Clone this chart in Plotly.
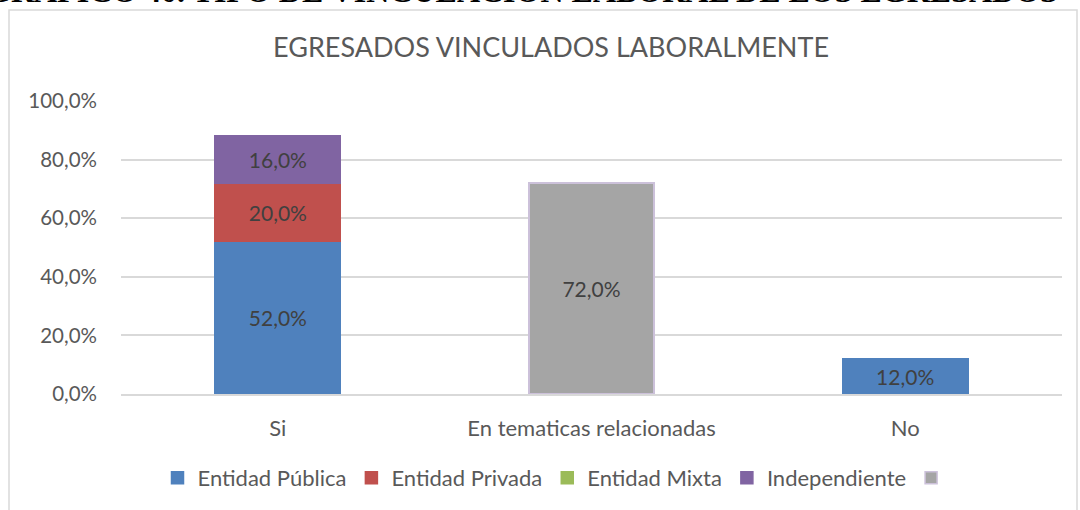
import plotly.graph_objects as go

# data
categorias = ["Si", "En tematicas relacionadas", "No"]
entidad_publica = [52.0, None, 12.0]
entidad_privada = [20.0, None, None]
entidad_mixta = [None, None, None]
independiente = [16.0, None, None]
sin_nombre = [None, 72.0, None]

series = [
    ("Entidad Pública", entidad_publica, "#4f81bd", "#4f81bd"),
    ("Entidad Privada", entidad_privada, "#c0504d", "#c0504d"),
    ("Entidad Mixta", entidad_mixta, "#9bbb59", "#9bbb59"),
    ("Independiente", independiente, "#8064a2", "#8064a2"),
    (" ", sin_nombre, "#a5a5a5", "#ccc1da"),
]

FONT = "Lato, sans-serif"
W, H = 1080, 510
L, R, T, B = 121, 18, 101, 116
pw, ph = W - L - R, H - T - B


def px_x(px):
    return (px - L) / pw


def px_y(py):
    return (H - B - py) / ph


fig = go.Figure()
for name, vals, color, line in series:
    fig.add_trace(go.Bar(
        x=categorias, y=vals, name=name,
        marker=dict(color=color, line=dict(color=line, width=1.5)),
        texttemplate="%{y:.1f}%", textposition="inside", insidetextanchor="middle",
        textfont=dict(color="#404040", size=21, family=FONT),
        hoverinfo="skip",
    ))

# outer chart frame (as in the Word document)
fig.add_shape(type="rect", xref="paper", yref="paper",
              x0=px_x(9), x1=px_x(1077), y0=px_y(530), y1=px_y(10),
              line=dict(color="#d9d9d9", width=1.5), fillcolor="rgba(0,0,0,0)", layer="below")

# document heading, cut off by the top edge in the reference
fig.add_annotation(text="<b>GRÁFICO 40. TIPO DE VINCULACIÓN LABORAL DE LOS EGRESADOS</b>",
                   xref="paper", yref="paper", x=px_x(522), y=px_y(11),
                   xanchor="center", yanchor="bottom", showarrow=False,
                   font=dict(family="Liberation Serif, serif", size=32, color="#000000"))

fig.update_layout(
    width=W, height=H,
    barmode="stack", bargap=0.6,
    separators=",.",
    paper_bgcolor="white", plot_bgcolor="white",
    margin=dict(l=L, r=R, t=T, b=B, autoexpand=False),
    font=dict(family=FONT, color="#595959", size=21),
    title=dict(text="EGRESADOS VINCULADOS LABORALMENTE", x=px_x(551), xref="paper",
               xanchor="center", y=1 - 48 / H, yref="container", yanchor="middle",
               font=dict(size=27, color="#595959", family=FONT)),
    legend=dict(orientation="h", x=px_x(560), xref="paper", xanchor="center",
                y=1 - 478 / H, yref="container", yanchor="middle",
                font=dict(size=22, color="#595959"), traceorder="normal",
                itemclick=False),
    showlegend=True,
)

fig.update_yaxes(range=[0, 100], dtick=20, tickformat=".1f", ticksuffix="%",
                 tickfont=dict(size=20.5),
                 showgrid=True, gridcolor="#d9d9d9", gridwidth=1.5,
                 zeroline=False, showline=False, ticks="", ticklabelstandoff=23)
fig.update_xaxes(showline=True, linecolor="#d9d9d9", linewidth=1.5, ticks="",
                 tickfont=dict(size=22), ticklabelstandoff=14,
                 showgrid=False)

# the page is photographed from its top-left corner, so drop the default body margin
fig.write_html("out.html", config={"displayModeBar": False},
               post_script="document.body.style.margin='0px';")
